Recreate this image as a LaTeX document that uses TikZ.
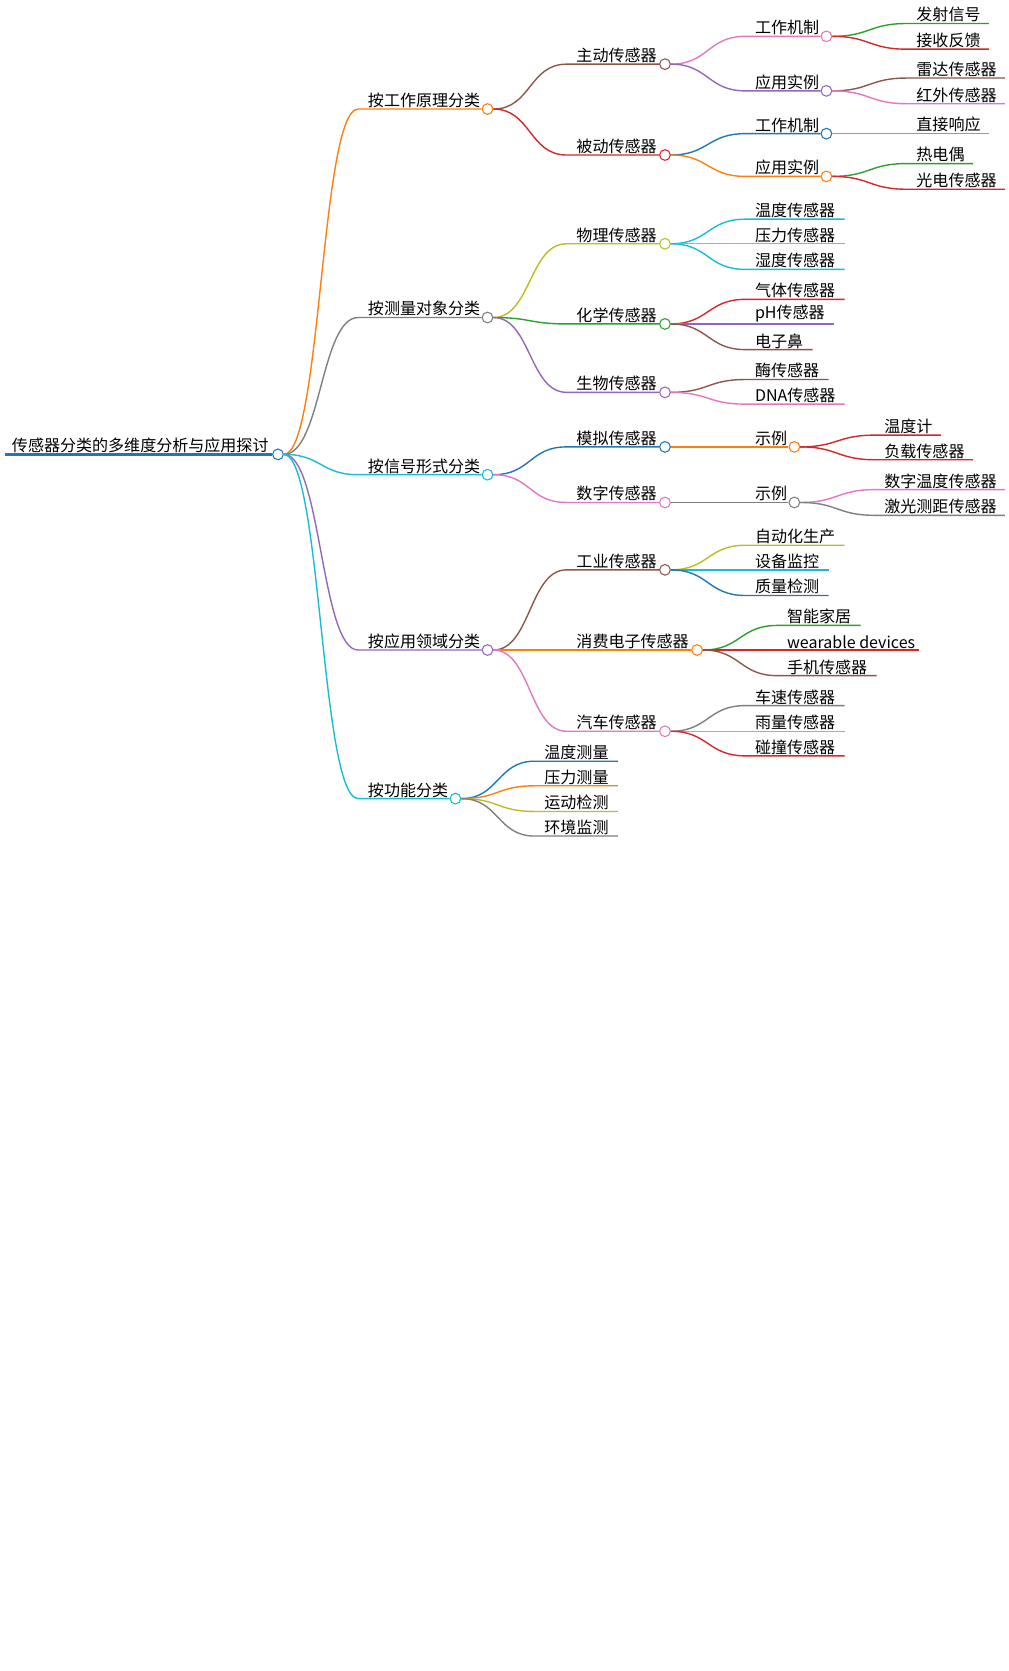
\documentclass[tikz,border=0pt]{standalone}
\usepackage{fontspec}
\setmainfont{Noto Sans CJK SC}
\definecolor{cbl}{RGB}{31,119,180}
\definecolor{cor}{RGB}{255,127,14}
\definecolor{cgr}{RGB}{44,160,44}
\definecolor{crd}{RGB}{214,39,40}
\definecolor{cpu}{RGB}{148,103,189}
\definecolor{cbr}{RGB}{140,86,75}
\definecolor{cpk}{RGB}{227,119,194}
\definecolor{cgy}{RGB}{127,127,127}
\definecolor{col}{RGB}{188,189,34}
\definecolor{ccy}{RGB}{23,190,207}
\tikzset{
  dot/.style={circle,fill=white,line width=1pt,inner sep=0pt,minimum size=10pt},
  lbl/.style={anchor=south west,inner sep=1pt,font=\fontsize{15}{17}\selectfont},
  edge/.style={line width=1.3pt}
}
% #1 name, #2 parent, #3 colour, #4 line start x, #5 line end x, #6 y, #7 text
\newcommand{\mmbranch}[7]{%
  \coordinate (#1-s) at (#4,#6);
  \node[dot,draw=#3] (#1) at (#5,#6) {};
  \draw[edge,#3] (#2.east) .. controls +(35,0) and +(-35,0) .. (#1-s) -- (#1.west);
  \node[lbl] (#1-t) at ([xshift=8pt]#1-s) {#7};
}
\newcommand{\mmleaf}[7]{%
  \coordinate (#1-s) at (#4,#6);
  \coordinate (#1) at (#5,#6);
  \draw[edge,#3] (#2.east) .. controls +(35,0) and +(-35,0) .. (#1-s) -- (#1);
  \node[lbl] (#1-t) at ([xshift=8pt]#1-s) {#7};
}
\begin{document}
\begin{tikzpicture}[x=1pt,y=-1pt]
\useasboundingbox[fill=white] (0,0) rectangle (943,1563);
% root
\node[dot,draw=cbl] (root) at (260,425) {};
\draw[cbl,line width=3pt] (5,425) -- (root.west);
\node[lbl] (root-t) at (10,425) {传感器分类的多维度分析与应用探讨};
% level 1
\mmbranch{wp}{root}{cor}{335}{456}{102}{按工作原理分类}
\mmbranch{mo}{root}{cgy}{335}{456}{297}{按测量对象分类}
\mmbranch{sf}{root}{ccy}{335}{456}{444}{按信号形式分类}
\mmbranch{ad}{root}{cpu}{335}{456}{608}{按应用领域分类}
\mmbranch{fn}{root}{ccy}{335}{426}{747}{按功能分类}
% working principle
\mmbranch{act}{wp}{cbr}{530}{622}{60}{主动传感器}
\mmbranch{pas}{wp}{crd}{530}{622}{145}{被动传感器}
\mmbranch{actm}{act}{cpk}{697}{773}{34}{工作机制}
\mmbranch{acte}{act}{cpu}{697}{773}{85}{应用实例}
\mmleaf{a1}{actm}{cgr}{848}{925}{22}{发射信号}
\mmleaf{a2}{actm}{crd}{848}{925}{46}{接收反馈}
\mmleaf{a3}{acte}{cbr}{848}{940}{73}{雷达传感器}
\mmleaf{a4}{acte}{cpk}{848}{940}{97}{红外传感器}
\mmbranch{pasm}{pas}{cbl}{697}{773}{125}{工作机制}
\mmbranch{pase}{pas}{cor}{697}{773}{165}{应用实例}
\mmleaf{p1}{pasm}{cor}{848}{925}{125}{直接响应}
\mmleaf{p2}{pase}{cgr}{848}{910}{153}{热电偶}
\mmleaf{p3}{pase}{crd}{848}{940}{177}{光电传感器}
% measured object
\mmbranch{phy}{mo}{col}{530}{622}{228}{物理传感器}
\mmbranch{che}{mo}{cgr}{530}{622}{303}{化学传感器}
\mmbranch{bio}{mo}{cpu}{530}{622}{367}{生物传感器}
\mmleaf{m1}{phy}{ccy}{697}{790}{205}{温度传感器}
\mmleaf{m2}{phy}{col}{697}{790}{228}{压力传感器}
\mmleaf{m3}{phy}{ccy}{697}{790}{252}{湿度传感器}
\mmleaf{m4}{che}{crd}{697}{790}{280}{气体传感器}
\mmleaf{m5}{che}{cpu}{697}{780}{303}{pH传感器}
\mmleaf{m6}{che}{cbr}{697}{760}{327}{电子鼻}
\mmleaf{m7}{bio}{cbr}{697}{775}{355}{酶传感器}
\mmleaf{m8}{bio}{cpk}{697}{790}{378}{DNA传感器}
% signal form
\mmbranch{ana}{sf}{cbl}{530}{622}{418}{模拟传感器}
\mmbranch{dig}{sf}{cpk}{530}{622}{470}{数字传感器}
\mmbranch{anae}{ana}{cor}{697}{743}{418}{示例}
\mmbranch{dige}{dig}{cgy}{697}{743}{470}{示例}
\mmleaf{s1}{anae}{crd}{818}{880}{407}{温度计}
\mmleaf{s2}{anae}{crd}{818}{910}{430}{负载传感器}
\mmleaf{s3}{dige}{cpk}{818}{940}{458}{数字温度传感器}
\mmleaf{s4}{dige}{cgy}{818}{940}{482}{激光测距传感器}
% application domain
\mmbranch{ind}{ad}{cbr}{530}{622}{533}{工业传感器}
\mmbranch{con}{ad}{cor}{530}{652}{608}{消费电子传感器}
\mmbranch{car}{ad}{cpk}{530}{622}{684}{汽车传感器}
\mmleaf{d1}{ind}{col}{697}{790}{510}{自动化生产}
\mmleaf{d2}{ind}{ccy}{697}{775}{533}{设备监控}
\mmleaf{d3}{ind}{cbl}{697}{775}{557}{质量检测}
\mmleaf{d4}{con}{cgr}{727}{805}{585}{智能家居}
\mmleaf{d5}{con}{crd}{727}{860}{608}{wearable devices}
\mmleaf{d6}{con}{cbr}{727}{820}{632}{手机传感器}
\mmleaf{d7}{car}{cgy}{697}{790}{660}{车速传感器}
\mmleaf{d8}{car}{col}{697}{790}{684}{雨量传感器}
\mmleaf{d9}{car}{crd}{697}{790}{707}{碰撞传感器}
% function
\mmleaf{f1}{fn}{cbl}{500}{578}{712}{温度测量}
\mmleaf{f2}{fn}{cor}{500}{578}{735}{压力测量}
\mmleaf{f3}{fn}{col}{500}{578}{759}{运动检测}
\mmleaf{f4}{fn}{cgy}{500}{578}{782}{环境监测}
\end{tikzpicture}
\end{document}
